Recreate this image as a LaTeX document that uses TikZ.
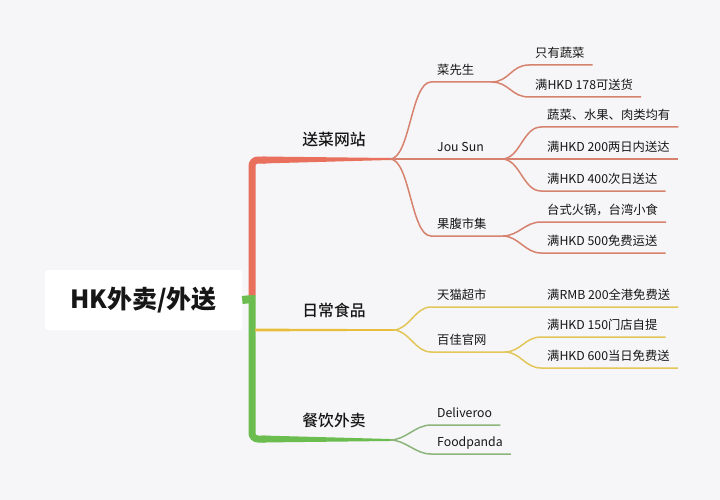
\documentclass[tikz,border=0pt]{standalone}
\usepackage{fontspec}
\setmainfont{Noto Sans CJK SC}
\newfontfamily\medfont{Noto Sans CJK SC Medium}
\usetikzlibrary{calc}
\definecolor{bgcol}{RGB}{246,246,248}
\definecolor{redtrunk}{RGB}{233,112,92}
\definecolor{redtwig}{RGB}{214,130,110}
\definecolor{yeltrunk}{RGB}{232,190,60}
\definecolor{yeltwig}{RGB}{226,198,90}
\definecolor{grntrunk}{RGB}{108,189,79}
\definecolor{grntwig}{RGB}{139,181,122}
\definecolor{ink}{RGB}{22,22,22}

\begin{document}
\begin{tikzpicture}[x=1pt, y=-1pt,
    rootbox/.style={fill=white, rounded corners=3pt,
                    minimum width=197pt, minimum height=60pt,
                    inner sep=0pt, text=ink,
                    font=\fontsize{25}{25}\selectfont\bfseries},
    topic/.style={anchor=base, inner sep=0pt, text=ink,
                  font=\medfont\fontsize{15.8}{16}\selectfont},
    lbl/.style={anchor=south west, inner xsep=6pt,
                inner ysep=7pt, text depth=0pt, text=ink,
                font=\fontsize{12.3}{14}\selectfont},
    trunk/.style={line width=7pt, rounded corners=6pt},
    redtw/.style={redtwig, line width=1.5pt},
    yeltw/.style={yeltwig, line width=1.5pt},
    grntw/.style={grntwig, line width=1.5pt},
  ]
  \fill[bgcol] (0,0) rectangle (720,500);
  \useasboundingbox (0,0) rectangle (720,500);

  % root and topics
  \node[rootbox] (hk) at (143.5,300) {HK外卖/外送};
  \node[topic] (song) at (334,146) {送菜网站};
  \node[topic] (daily) at (334,316) {日常食品};
  \node[topic] (dine) at (334,426) {餐饮外卖};

  % junctions of the trunk
  \coordinate (hub) at (252,299);
  \coordinate (topC) at (252,160);
  \coordinate (botC) at (252,439);
  \coordinate (jSong) at (390,159);
  \coordinate (jDaily) at (393,330);
  \coordinate (jDine) at (390,440);

  % second level
  \node[lbl] (cai) at (431,82) {菜先生};
  \node[lbl] (jou) at (431,159) {Jou Sun};
  \node[lbl] (guo) at (431,236) {果腹市集};
  \node[lbl] (tmall) at (431,307) {天猫超市};
  \node[lbl] (bai) at (431,352) {百佳官网};
  \node[lbl] (deli) at (431,425) {Deliveroo};
  \node[lbl] (panda) at (431,454) {Foodpanda};

  \coordinate (jCai) at ([xshift=11pt]cai.south east);
  \coordinate (jJou) at ([xshift=12pt]jou.south east);
  \coordinate (jGuo) at ([xshift=10pt]guo.south east);
  \coordinate (jBai) at ([xshift=12pt]bai.south east);

  % leaves
  \node[lbl] (veg) at (529,65) {只有蔬菜};
  \node[lbl] (hkd178) at (529,97) {满HKD 178可送货};
  \node[lbl] (allfood) at (541,127) {蔬菜、水果、肉类均有};
  \node[lbl] (hkd200) at (541,159) {满HKD 200两日内送达};
  \node[lbl] (hkd400) at (541,191) {满HKD 400次日送达};
  \node[lbl] (hotpot) at (541,222) {台式火锅，台湾小食};
  \node[lbl] (hkd500) at (541,253) {满HKD 500免费运送};
  \node[lbl] (rmb200) at (541,307) {满RMB 200全港免费送};
  \node[lbl] (hkd150) at (541,337) {满HKD 150门店自提};
  \node[lbl] (hkd600) at (541,368) {满HKD 600当日免费送};

  % red twigs
  \draw[redtw] (jSong) .. controls +(20,0) and +(-20,0) .. (cai.south west) -- (jCai);
  \draw[redtw] (jSong) -- (jou.south west) -- (jJou);
  \draw[redtw] (jSong) .. controls +(20,0) and +(-20,0) .. (guo.south west) -- (jGuo);
  \draw[redtw] (jCai) .. controls +(18,0) and +(-18,0) .. (veg.south west) -- ([xshift=2pt]veg.south east);
  \draw[redtw] (jCai) .. controls +(18,0) and +(-18,0) .. (hkd178.south west) -- ([xshift=2pt]hkd178.south east);
  \draw[redtw] (jJou) .. controls +(18,0) and +(-18,0) .. (allfood.south west) -- ([xshift=2pt]allfood.south east);
  \draw[redtw] (jJou) -- (hkd200.south west) -- ([xshift=2pt]hkd200.south east);
  \draw[redtw] (jJou) .. controls +(18,0) and +(-18,0) .. (hkd400.south west) -- ([xshift=2pt]hkd400.south east);
  \draw[redtw] (jGuo) .. controls +(16,0) and +(-16,0) .. (hotpot.south west) -- ([xshift=2pt]hotpot.south east);
  \draw[redtw] (jGuo) .. controls +(16,0) and +(-16,0) .. (hkd500.south west) -- ([xshift=2pt]hkd500.south east);

  % yellow twigs
  \draw[yeltw] (jDaily) .. controls +(16,0) and +(-16,0) .. (tmall.south west) -- ([xshift=2pt]rmb200.south east);
  \draw[yeltw] (jDaily) .. controls +(16,0) and +(-16,0) .. (bai.south west) -- (jBai);
  \draw[yeltw] (jBai) .. controls +(16,0) and +(-16,0) .. (hkd150.south west) -- ([xshift=2pt]hkd150.south east);
  \draw[yeltw] (jBai) .. controls +(16,0) and +(-16,0) .. (hkd600.south west) -- ([xshift=2pt]hkd600.south east);

  % green twigs
  \draw[grntw] (jDine) .. controls +(16,0) and +(-16,0) .. (deli.south west) -- ([xshift=2pt]deli.south east);
  \draw[grntw] (jDine) .. controls +(16,0) and +(-16,0) .. (panda.south west) -- ([xshift=2pt]panda.south east);

  % trunk
  \draw[grntrunk, line width=8pt] (hk.east) -- (hub);
  \draw[grntrunk, trunk] ($(hub)+(0,-4)$) |- ($(botC)+(14,0)$);
  \fill[grntrunk] ($(botC)+(10,-3.5)$) -- ($(jDine)+(0,-1)$)
      -- ($(jDine)+(0,1)$) -- ($(botC)+(10,3.5)$) -- cycle;
  \draw[redtrunk, trunk] ($(hub)+(0,-4)$) |- ($(topC)+(14,0)$);
  \fill[redtrunk] ($(topC)+(10,-3.5)$) -- ($(jSong)+(0,-1)$)
      -- ($(jSong)+(0,1)$) -- ($(topC)+(10,3.5)$) -- cycle;
  \fill[yeltrunk] ($(hub|-jDaily)+(3,-1.4)$) -- ($(jDaily)+(0,-0.8)$)
      -- ($(jDaily)+(0,0.8)$) -- ($(hub|-jDaily)+(3,1.4)$) -- cycle;
\end{tikzpicture}
\end{document}
